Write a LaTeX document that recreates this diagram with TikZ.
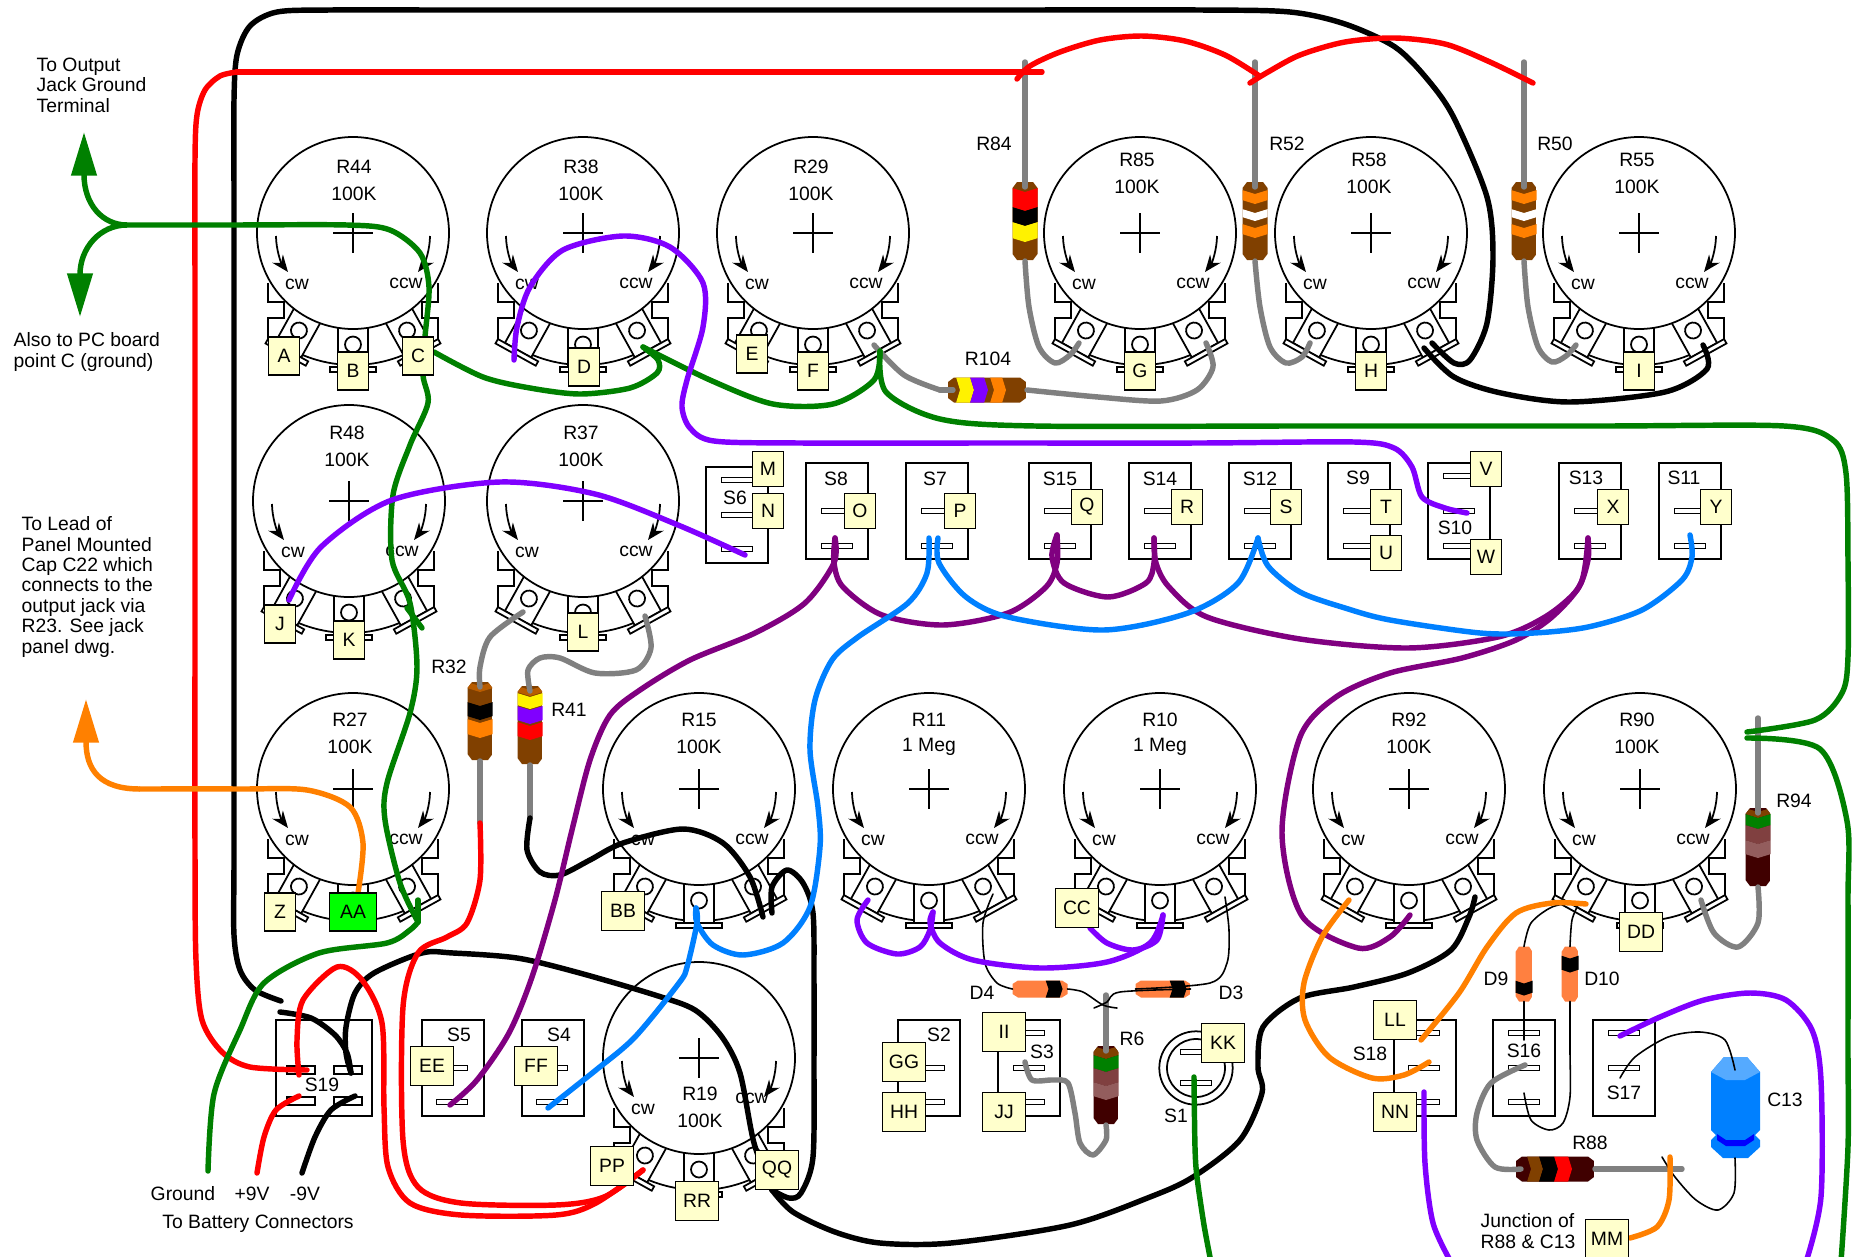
\documentclass[tikz,border=0pt]{standalone}
\usepackage{fontspec}
\setmainfont{Liberation Sans}
\usepackage{xcolor}
\usepackage{tikz}
\usetikzlibrary{calc}
\usetikzlibrary{arrows.meta}

\definecolor{wgreen}{HTML}{008000}
\definecolor{wviolet}{HTML}{8000FF}
\definecolor{wpurple}{HTML}{800080}
\definecolor{wblue}{HTML}{0080FF}
\definecolor{worange}{HTML}{FF8000}
\definecolor{wgrey}{HTML}{808080}
\definecolor{wred}{HTML}{FF0000}
\definecolor{brw}{HTML}{804000}
\definecolor{capbrw}{HTML}{B85C00}
\definecolor{maroon}{HTML}{400000}
\definecolor{rose}{HTML}{804040}
\definecolor{tagyellow}{HTML}{FFFFCC}
\definecolor{diode}{HTML}{FF8040}
\definecolor{capblue}{HTML}{55AAFF}

\tikzset{
	every node/.style = {font=\fontsize{5.5}{5.8}\selectfont, inner sep=0pt},
	wire/.style = {line width=1.55pt, line cap=round, line join=round},
	fine/.style = {line width=0.45pt, line cap=round},
	part/.style = {line width=0.5pt},
	tag/.style = {draw, line width=0.5pt, fill=tagyellow, minimum width=0.31cm, minimum height=0.38cm},
	tagn/.style = {tag, minimum height=0.35cm},
	tagw/.style = {tag, minimum width=0.43cm, minimum height=0.39cm},
	swbox/.style = {draw, part, minimum width=0.62cm, minimum height=0.96cm},
	lugbar/.style = {draw, part, fill=white, minimum width=0.31cm, minimum height=0.05cm},
	widebar/.style = {lugbar, minimum width=0.28cm, minimum height=0.08cm},
	turn/.style = {line width=0.5pt, -{Stealth[length=4.8pt,width=3.8pt]}},
	bighead/.style = {wire, line cap=butt, -{Triangle[length=12.4pt,width=7pt]}}
}

\newcommand{\wire}[2]{\draw[wire,#1] plot[smooth] coordinates {#2};}
\newcommand{\fine}[1]{\draw[fine] plot[smooth] coordinates {#1};}

\newcommand{\potlug}[1]{
	\begin{scope}[rotate=#1]
		\draw[part,fill=white] (-15,85) rectangle (15,134);
		\draw[part,fill=white] (-23,134) rectangle (23,139);
		\draw[part] (0,111.5) circle (8);
	\end{scope}
}

% name, x, y, value, label x, label y, ccw y
\newcommand{\pot}[7]{
	\begin{scope}[shift={(#2,#3)}]
		\draw[part] (-85,50) -- (-85,69) -- (-69,69) -- (-69,85) -- (-85,85) -- (-85,107);
		\draw[part] (85,50) -- (85,69) -- (69,69) -- (69,85) -- (85,85) -- (85,107);
		\draw[part] (119:132) arc (119:61:132);
		\potlug{-29}
		\potlug{0}
		\potlug{29}
		\draw[part,fill=white] (0,0) circle (96);
		\draw[line width=0.4pt] (-20,0) -- (20,0) (0,-20) -- (0,20);
		\draw[turn] (-77,3) .. controls (-77,16) and (-72,30) .. (-65,39);
		\draw[turn] (77,3) .. controls (77,16) and (72,30) .. (65,39);
		\node (#1-cw) at (-56,51) {cw};
		\node (#1-ccw) at (53,#7) {ccw};
	\end{scope}
	\node (#1-name) at (#5,#6+1) {#1};
	\node (#1-val) at (#5,#6+28) {#4};
}

% body colour (optional), name, x, y, rotation, bands
\newcommand{\resistor}[6][brw]{
	\begin{scope}[shift={(#3,#4)},rotate=#5]
		\begin{scope}
			\clip (-8,-39) -- (8,-39) -- (12.5,-33) -- (12.5,33) -- (8,39) -- (-8,39) -- (-12.5,33) -- (-12.5,-33) -- cycle;
			\fill[#1] (-13,-40) rectangle (13,40);
			\foreach \c/\a/\b in {#6}
				\fill[\c] (-13,\a-39) -- (0,\a-35) -- (13,\a-39) -- (13,\b-39) -- (0,\b-35) -- (-13,\b-39) -- cycle;
		\end{scope}
		\coordinate (#2-a) at (0,-34);
		\coordinate (#2-b) at (0,40);
	\end{scope}
}

% name, x, y, rotation, band start, band end
\newcommand{\diode}[6]{
	\begin{scope}[shift={(#2,#3)},rotate=#4]
		\begin{scope}
			\clip (-5,-27.5) -- (5,-27.5) -- (8.5,-22) -- (8.5,22) -- (5,27.5) -- (-5,27.5) -- (-8.5,22) -- (-8.5,-22) -- cycle;
			\fill[diode] (-9,-28) rectangle (9,28);
			\fill[black] (-9,#5-27.5) -- (0,#5-24.5) -- (9,#5-27.5) -- (9,#6-27.5) -- (0,#6-24.5) -- (-9,#6-27.5) -- cycle;
		\end{scope}
		\coordinate (#1-a) at (0,-27.5);
		\coordinate (#1-b) at (0,27.5);
	\end{scope}
}

\begin{document}
\begin{tikzpicture}[x=0.01cm, y=-0.01cm]
	\useasboundingbox[fill=white] (0,0) rectangle (1865,1257);

	% pots
	\foreach \nm/\x/\y/\v/\lx/\ly/\cc in {
		R44/353/233/100K/354/166/50, R38/583/233/100K/581/166/50, R29/813/233/100K/811/166/50,
		R85/1140/233/100K/1137/159/50, R58/1371/233/100K/1369/159/50, R55/1639/233/100K/1637/159/50,
		R48/349/501/100K/347/432/50, R37/583/501/100K/581/432/50,
		R27/353/789/100K/350/719/50, R15/699/789/100K/699/719/50, R11/929/789/1 Meg/929/719/50,
		R10/1160/789/1 Meg/1160/719/50, R92/1409/789/100K/1409/719/50, R90/1640/789/100K/1637/719/50,
		R19/699/1058/100K/700/1093/40}{
		\pot{\nm}{\x}{\y}{\v}{\lx}{\ly}{\cc}
	}

	% switches with two or three bars
	\foreach \nm/\x/\y/\tx/\ty in {
		S8/837/511/836/479, S7/937/511/935/479, S15/1060/511/1060/479, S14/1160/511/1160/479,
		S12/1260/511/1260/479, S9/1359/511/1358/478, S13/1590/511/1586/478, S11/1690/511/1684/478}{
		\node[swbox] (\nm) at (\x,\y) {};
		\node[lugbar] (\nm-a) at (\x,511) {};
		\node[lugbar] (\nm-b) at (\x,546) {};
		\node (\nm-name) at (\tx,\ty) {\nm};
	}
	\node[swbox] (S6) at (737,515) {};
	\node[lugbar] (S6-a) at (737,480) {};
	\node[lugbar] (S6-b) at (737,515) {};
	\node[lugbar] (S6-c) at (737,549) {};
	\node (S6-name) at (735,498) {S6};
	\node[swbox] (S10) at (1459,511) {};
	\node[lugbar] (S10-a) at (1459,476) {};
	\node[lugbar] (S10-b) at (1459,511) {};
	\node[lugbar] (S10-c) at (1459,546) {};
	\node (S10-name) at (1455,528) {S10};

	\foreach \nm/\x/\tx/\ty in {
		S5/453/459/1035, S4/553/559/1035, S2/929/939/1035, S3/1029/1042/1052,
		S18/1425/1370/1054, S16/1524/1524/1051, S17/1624/1624/1093}{
		\node[swbox] (\nm) at (\x,1068) {};
		\node (\nm-name) at (\tx,\ty) {\nm};
	}
	\foreach \nm/\x/\y in {
		S5/452/1068, S5/452/1102, S4/552/1068, S4/552/1102, S2/929/1068, S2/929/1102,
		S3/1029/1033, S3/1029/1068, S3/1029/1102, S18/1424/1033, S18/1424/1068, S18/1424/1102,
		S16/1524/1033, S16/1524/1068, S16/1524/1102, S17/1624/1033, S17/1624/1068}
		\node[lugbar] (\nm-\y) at (\x,\y) {};

	\node[swbox, minimum width=0.96cm] (S19) at (324,1068) {};
	\node[widebar] (S19-a) at (301,1070) {};
	\node[widebar] (S19-b) at (348,1070) {};
	\node[widebar] (S19-c) at (301,1101) {};
	\node[widebar] (S19-d) at (348,1101) {};
	\node (S19-name) at (322,1085) {S19};

	\draw[part] (1196,1068) circle (36.7) (1196,1068) circle (29);
	\node[lugbar] (S1-a) at (1196,1052) {};
	\node[lugbar] (S1-b) at (1196,1083) {};
	\node (S1-name) at (1176,1116) {S1};

	% parts
	\resistor{R84}{1025}{221}{0}{red/6/25, black/25/40, yellow/40/56}
	\resistor{R52}{1255}{221}{0}{orange/8/18, white/27/35, orange/42/52}
	\resistor{R50}{1524}{221}{0}{orange/8/18, white/27/35, orange/42/52}
	\resistor{R104}{987}{390}{90}{yellow/8/22, wviolet/22/36, orange/42/54}
	\resistor{R32}{480}{721}{0}{capbrw/0/6, black/20/34, orange/37/52}
	\resistor{R41}{530}{725}{0}{capbrw/0/6, yellow/7/19, wviolet/20/34, wred/36/50}
	\resistor[maroon]{R6}{1106}{1085}{0}{brw/0/9, wgreen/9/22, rose/22/36, rose!85!white/36/50}
	\resistor[maroon]{R94}{1758}{847}{0}{brw/0/6, wgreen/6/17, rose/17/32, rose!85!white/32/46}
	\resistor[maroon]{R88}{1555}{1169}{90}{brw/11/23, black/23/38, wred/38/52}
	\diode{D4}{1040}{989}{90}{33}{47}
	\diode{D3}{1163}{989}{90}{34}{48}
	\diode{D9}{1524}{974}{0}{34}{46}
	\diode{D10}{1570}{974}{0}{9}{23}

	% C13
	\fill[wblue] (1711,1072) -- (1724,1057) -- (1747,1057) -- (1760,1072) -- (1760,1130) -- (1755,1135) -- (1760,1140) -- (1760,1147) -- (1748,1158) -- (1723,1158) -- (1711,1147) -- (1711,1140) -- (1716,1135) -- (1711,1130) -- cycle;
	\fill[capblue] (1711,1072) -- (1724,1057) -- (1747,1057) -- (1760,1072) -- (1745,1080) -- (1726,1080) -- cycle;
	\fill[blue] (1717,1134) -- (1726,1140) -- (1745,1140) -- (1754,1134) -- (1754,1140) -- (1745,1146) -- (1726,1146) -- (1717,1140) -- cycle;
	\coordinate (C13-a) at (1735,1070);
	\coordinate (C13-b) at (1735,1158);

	% free wire ends
	\path[shape=coordinate]
	(127,225) coordinate(fork)
	(84,132) coordinate(outtip)
	(80,317) coordinate(pctip)
	(86,699) coordinate(leadtip)
	(237,72) coordinate(redcorner)
	(1042,72) coordinate(redend)
	(1017,79) coordinate(redA)
	(1258,75) coordinate(redB)
	(1250,83) coordinate(redC)
	(1533,83) coordinate(redD)
	(643,1170) coordinate(PPlug)
	(257,1173) coordinate(plusend)
	(302,1173) coordinate(minusend)
	(208,1171) coordinate(gndend)
	(418,900) coordinate(R27a)
	(418,922) coordinate(R27b)
	(407,608) coordinate(R48a)
	(422,628) coordinate(R48b)
	(643,347) coordinate(R38lug)
	(880,351) coordinate(R29lug)
	(514,360) coordinate(R38left)
	(1747,732) coordinate(R94topA)
	(1747,738) coordinate(R94topB)
	(1211,1262) coordinate(S1end)
	(1451,1262) coordinate(NNend)
	(1806,1262) coordinate(S17end)
	(1841,1262) coordinate(rightend)
	(1432,343) coordinate(R58ccwA)
	(1424,348) coordinate(R58ccwB)
	(1703,345) coordinate(R55ccw)
	(280,1012) coordinate(blackS19)
	(281,1001) coordinate(blackframe)
	(763,917) coordinate(R15ccwA)
	(772,913) coordinate(R15ccwB)
	(772,1190) coordinate(R19ccw)
	(1475,897) coordinate(R92ccw)
	(868,900) coordinate(R11l)
	(933,912) coordinate(R11m)
	(1163,915) coordinate(R10m)
	(696,908) coordinate(R15m)
	(1410,915) coordinate(R92m)
	(1349,900) coordinate(R92l)
	(1586,904) coordinate(R90l)
	(1421,1040) coordinate(S18a)
	(1429,1062) coordinate(S18b)
	(1670,1157) coordinate(junction)
	(1079,343) coordinate(R85l)
	(1310,343) coordinate(R58l)
	(1576,345) coordinate(R55l)
	(1206,343) coordinate(R85r)
	(874,345) coordinate(R29r)
	(940,390) coordinate(R104l)
	(523,612) coordinate(R37l)
	(645,616) coordinate(R37m)
	(480,823) coordinate(R32end)
	(530,818) coordinate(R41end)
	(1106,995) coordinate(R6top)
	(1025,1062) coordinate(S3m)
	(1758,718) coordinate(R94top)
	(1701,900) coordinate(R90r)
	(1525,1065) coordinate(S16m)
	(1682,1169) coordinate(R88end)
	(993,894) coordinate(R11r)
	(1225,897) coordinate(R10r)
	(1117,1008) coordinate(D4end)
	(1094,1008) coordinate(D3end)
	(1577,902) coordinate(D9end)
	(1579,903) coordinate(D10end)
	(1524,1040) coordinate(S16a)
	(1524,1093) coordinate(S16c)
	(1620,1078) coordinate(S17b)
	(1662,1157) coordinate(C13end)
	(434,352) coordinate(Cout)
	(289,600) coordinate(Jout)
	(1090,928) coordinate(CCout)
	(1424,1092) coordinate(NNout)
	(1630,1238) coordinate(MMout)
	(358,893) coordinate(AAout)
	(835,538) coordinate(S8top)
	(929,538) coordinate(S7left)
	(938,538) coordinate(S7right)
	(1057,535) coordinate(S15top)
	(1154,538) coordinate(S14top)
	(1258,538) coordinate(S12top)
	(1588,538) coordinate(S13top)
	(1690,535) coordinate(S11top)
	(745,555) coordinate(S6end)
	(1467,513) coordinate(S10end)
	(450,1105) coordinate(S5end)
	(548,1108) coordinate(S4end)
	(1620,1036) coordinate(S17top)
	(1194,1077) coordinate(S1top)
	(351,1073) coordinate(S19top)
	(355,1096) coordinate(S19low)
	(299,1096) coordinate(S19plus)
	(299,1075) coordinate(S19red);

	% leads
	\draw[wire,wgrey] (1025,62) -- (R84-a);
	\draw[wire,wgrey] (1255,62) -- (R52-a);
	\draw[wire,wgrey] (1524,62) -- (R50-a);
	\wire{wgrey}{(R84-b) (1029,307) (1039,347) (1055,363) (1070,355) (R85l)}
	\wire{wgrey}{(R52-b) (1260,307) (1270,347) (1286,363) (1302,357) (R58l)}
	\wire{wgrey}{(R50-b) (1528,307) (1538,347) (1552,362) (1566,356) (R55l)}
	\wire{wgrey}{(R104-b) (1098,397) (1161,401) (1197,390) (1213,367) (R85r)}
	\wire{wgrey}{(R29r) (904,375) (R104l)}
	\draw[wire,wgrey] (R104l) -- (R104-a);
	\wire{wgrey}{(R32-a) (480,667) (490,637) (R37l)}
	\draw[wire,wgrey] (R32-b) -- (R32end);
	\wire{wgrey}{(R41-a) (528,670) (540,658) (560,658) (595,673) (636,670) (651,648) (R37m)}
	\draw[wire,wgrey] (R41-b) -- (R41end);
	\draw[wire,wgrey] (R6top) -- (R6-a);
	\wire{wgrey}{(R6-b) (1106,1140) (1093,1155) (1080,1143) (1075,1113) (1068,1083) (1053,1080) (1032,1080) (S3m)}
	\draw[wire,wgrey] (R94top) -- (R94-a);
	\wire{wgrey}{(R94-b) (1758,923) (1738,947) (1714,933) (R90r)}
	\wire{wgrey}{(R88-a) (1495,1167) (1477,1140) (1477,1113) (1491,1083) (S16m)}
	\draw[wire,wgrey] (R88-b) -- (R88end);

	% thin wires
	\fine{(R11r) (983,923) (985,963) (997,983) (D4-a)}
	\fine{(R10r) (1229,930) (1227,963) (1210,983) (D3-a)}
	\fine{(D4-b) (1083,992) (1103,1005) (D4end)}
	\fine{(D3-b) (1120,992) (1107,1002) (D3end)}
	\fine{(D9-a) (1531,923) (1552,907) (D9end)}
	\fine{(D10-a) (1572,920) (D10end)}
	\draw[fine] (D9-b) -- (S16a);
	\fine{(D10-b) (1570,1050) (1570,1097) (1563,1123) (1549,1130) (1531,1120) (S16c)}
	\fine{(S17b) (1635,1057) (1668,1037) (1700,1032) (1725,1040) (C13-a)}
	\fine{(C13-b) (1734,1193) (1718,1210) (1696,1200) (1675,1177) (C13end)}

	% black
	\wire{black}{(blackframe) (255,990) (240,970) (234,935) (234,860) (234,700) (234,400) (234,200) (234,100) (237,55) (250,26) (277,12) (330,10) (450,10) (700,10) (1000,10) (1200,10) (1290,12) (1345,24) (1395,47) (1428,80) (1454,118) (1487,197) (1493,257) (1487,323) (1470,360) (1454,363) (R58ccwA)}
	\wire{black}{(R58ccwB) (1454,377) (1501,393) (1570,402) (1665,392) (1707,369) (R55ccw)}
	\wire{black}{(blackS19) (311,1018) (335,1035) (347,1053) (S19top)}
	\wire{black}{(S19top) (346,1053) (346,1027) (355,993) (374,973) (422,953) (453,953) (517,958) (576,972) (655,995) (695,1010) (722,1037) (740,1073) (754,1143) (R19ccw)}
	\wire{black}{(R19ccw) (793,1212) (835,1232) (880,1243) (951,1243) (1070,1225) (1150,1197) (1193,1177) (1240,1140) (1262,1093) (1258,1067) (1263,1027) (1300,998) (1354,987) (1408,973) (1451,950) (1469,917) (R92ccw)}
	\wire{black}{(R41end) (527,850) (540,872) (560,875) (590,860) (623,843) (683,829) (723,843) (750,877) (R15ccwA)}
	\wire{black}{(R15ccwB) (772,887) (787,870) (803,883) (813,913) (814,980) (814,1060) (813,1157) (801,1193) (789,1198) (R19ccw)}
	\wire{black}{(minusend) (315,1137) (331,1110) (S19low)}

	% red
	\draw[wire,wred] (redcorner) -- (redend);
	\wire{wred}{(redcorner) (220,76) (205,90) (197,115) (195,160) (195,300) (195,600) (195,850) (196,960) (202,1020) (222,1052) (250,1067) (307,1070)}
	\wire{wred}{(redA) (1030,66) (1060,52) (1100,40) (1142,36) (1185,41) (1225,55) (redB)}
	\wire{wred}{(redC) (1268,72) (1300,55) (1345,42) (1395,38) (1445,44) (1490,62) (redD)}
	\wire{wred}{(S19red) (297,1040) (303,1000) (337,967) (362,980) (382,1023) (384,1107) (388,1167) (410,1203) (461,1215) (556,1215) (596,1203) (PPlug)}
	\wire{wred}{(R32end) (480,880) (467,923) (447,937) (418,953) (403,1007) (403,1140) (418,1187) (461,1203) (556,1205) (604,1197) (PPlug)}
	\wire{wred}{(plusend) (264,1137) (276,1110) (S19plus)}

	% green
	\wire{wgreen}{(fork) (230,225) (347,225) (390,230) (420,253) (429,287) (425,337) (423,375) (428,403) (410,445) (393,495) (392,560) (410,603) (417,667) (410,713) (387,783) (385,820) (400,883) (R27b)}
	\draw[bighead,wgreen] (fork) .. controls (103,225) and (84,205) .. (outtip);
	\draw[bighead,wgreen] (fork) .. controls (100,225) and (80,248) .. (pctip);
	\draw[wire,wgreen] (R48a) -- (R48b);
	\draw[wire,wgreen] (R27a) -- (R27b);
	\wire{wgreen}{(gndend) (214,1094) (240,1030) (264,983) (319,953) (387,943) (410,930) (R27b)}
	\wire{wgreen}{(Cout) (483,377) (530,388) (580,394) (630,388) (657,373) (658,360) (R38lug)}
	\wire{wgreen}{(R38lug) (710,380) (773,404) (833,404) (874,380) (R29lug)}
	\wire{wgreen}{(R29lug) (886,392) (940,419) (1035,426) (1300,426) (1600,426) (1784,426) (1833,440) (1846,473) (1848,560) (1848,657) (1842,693) (1815,720) (R94topA)}
	\wire{wgreen}{(R94topB) (1820,749) (1847,821) (1848,900) (1848,1050) (1848,1147) (rightend)}
	\wire{wgreen}{(S1top) (1195,1147) (1197,1177) (1204,1225) (S1end)}

	% violet
	\wire{wviolet}{(R38left) (517,327) (530,287) (563,250) (623,236) (670,247) (703,283) (703,327) (687,380) (682,407) (690,428) (714,441) (800,443) (1000,443) (1200,443) (1354,442) (1394,448) (1412,467) (1422,497) (1445,508) (S10end)}
	\wire{wviolet}{(Jout) (321,547) (392,500) (500,482) (595,494) (678,525) (S6end)}
	\wire{wviolet}{(R11l) (857,920) (867,943) (897,954) (920,947) (930,930) (R11m)}
	\wire{wviolet}{(R11m) (930,923) (940,943) (973,960) (1040,968) (1107,962) (1150,943) (R10m)}
	\wire{wviolet}{(CCout) (1107,943) (1133,950) (1157,940) (R10m)}
	\wire{wviolet}{(S17top) (1660,1017) (1704,1000) (1750,993) (1786,1000) (1812,1030) (1821,1080) (1821,1197) (S17end)}
	\wire{wviolet}{(NNout) (1425,1163) (1433,1223) (NNend)}

	% purple
	\wire{wpurple}{(S8top) (834,563) (805,603) (755,633) (690,660) (640,690) (610,715) (590,760) (572,830) (555,900) (532,977) (509,1033) (477,1080) (S5end)}
	\wire{wpurple}{(S8top) (834,563) (843,587) (882,615) (943,625) (1008,613) (1046,587) (1057,563) (S15top)}
	\wire{wpurple}{(S15top) (1052,557) (1064,583) (1108,597) (1146,583) (1154,563) (S14top)}
	\wire{wpurple}{(S14top) (1156,563) (1169,587) (1207,617) (1300,639) (1408,648) (1498,637) (1545,617) (1577,590) (1588,560) (S13top)}
	\wire{wpurple}{(S13top) (1581,583) (1552,617) (1516,640) (1462,658) (1390,673) (1336,697) (1300,737) (1282,833) (1302,916) (1358,948) (1390,937) (R92m)}

	% blue
	\wire{wblue}{(S7left) (927,573) (908,603) (858,637) (832,660) (815,700) (810,750) (818,807) (820,847) (810,907) (783,943) (743,955) (713,945) (697,923) (R15m)}
	\wire{wblue}{(R15m) (697,923) (687,967) (679,983) (635,1037) (596,1070) (S4end)}
	\wire{wblue}{(S7right) (939,563) (966,597) (1008,617) (1104,630) (1188,613) (1238,583) (S12top)}
	\wire{wblue}{(S12top) (1268,566) (1300,592) (1345,608) (1390,620) (1480,633) (1534,633) (1588,627) (1642,610) (1682,580) (1692,557) (S11top)}

	% orange
	\wire{worange}{(AAout) (363,843) (350,807) (307,790) (240,789) (140,789)}
	\draw[bighead,worange] (140,789) .. controls (100,789) and (86,770) .. (leadtip);
	\wire{worange}{(R92l) (1322,937) (1304,983) (1305,1020) (1329,1057) (1372,1078) (1404,1075) (S18b)}
	\wire{worange}{(S18a) (1459,993) (1487,947) (1516,913) (1552,903) (R90l)}
	\wire{worange}{(MMout) (1657,1227) (1669,1200) (junction)}

	% terminal tags
	\foreach \nm/\x/\y in {A/284/356, B/353/371, C/418/356, D/584/367, E/752/354, F/813/371, G/1140/371, H/1371/371, I/1639/371, J/280/624, K/349/640, L/583/632, Z/280/912}
		\node[tag] (\nm) at (\x,\y) {\nm};
	\foreach \nm/\x/\y in {M/768/469, N/768/511, O/860/511, P/960/511, Q/1087/507, R/1187/507, S/1286/507, T/1386/507, U/1386/553, V/1486/469, W/1486/557, X/1613/507, Y/1716/507}
		\node[tagn] (\nm) at (\x,\y) {\nm};
	\foreach \nm/\x/\y in {BB/623/911, CC/1077/908, DD/1641/932, EE/432/1066, FF/536/1066, GG/904/1062, HH/904/1112, II/1004/1032, JJ/1004/1112, KK/1223/1043, LL/1395/1020, NN/1395/1112, MM/1607/1239, PP/612/1166, QQ/777/1170, RR/697/1201}
		\node[tagw] (\nm) at (\x,\y) {\nm};
	\node[tag, fill=green, minimum width=0.47cm] (AA) at (353,912) {AA};

	% part names
	\foreach \nm/\x/\y in {R84/994/144, R52/1287/144, R50/1555/144, R104/988/359, R32/449/667, R41/569/710, R6/1132/1039, R94/1794/801, R88/1590/1143, C13/1785/1100, D4/982/993, D3/1231/993, D9/1496/979, D10/1602/979}
		\node (\nm-name) at (\x,\y) {\nm};

	% notes
	\node[anchor=north west, align=left] (outnote) at (36,57) {To Output\\Jack Ground\\Terminal};
	\node[anchor=north west, align=left] (pcnote) at (13,332) {Also to PC board\\point C (ground)};
	\node[anchor=north west, align=left] (leadnote) at (21,516) {To Lead of\\Panel Mounted\\Cap C22 which\\connects to the\\output jack via\\R23. See jack\\panel dwg.};
	\node (gndnote) at (183,1194) {Ground};
	\node (plusnote) at (252,1194) {+9V};
	\node (minusnote) at (305,1194) {-9V};
	\node (batnote) at (258,1224) {To Battery Connectors};
	\node[anchor=north west, align=left] (junctionnote) at (1480,1213) {Junction of\\R88 \& C13};
\end{tikzpicture}
\end{document}
